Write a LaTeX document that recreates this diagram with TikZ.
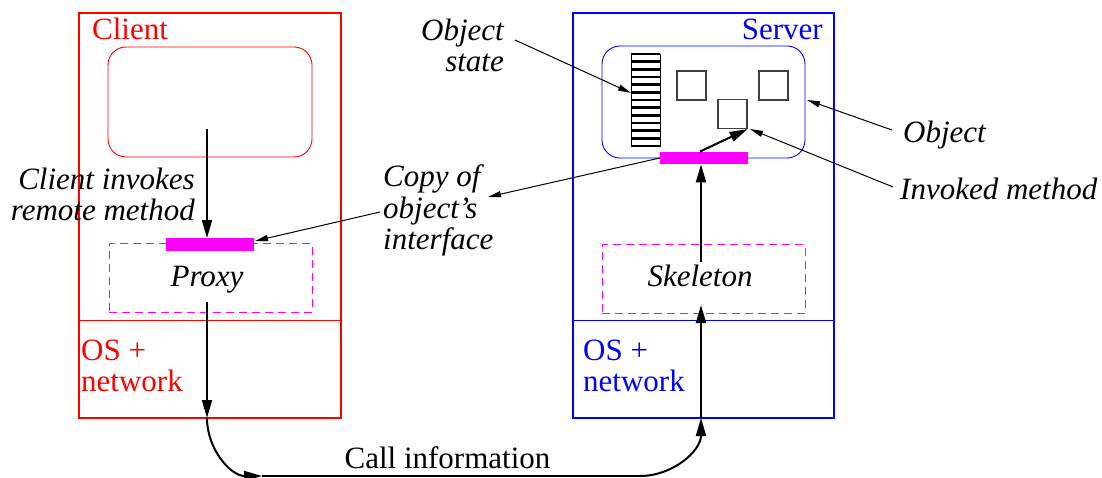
\documentclass[tikz,border=0pt]{standalone}
\usepackage{fontspec}
\IfFontExistsTF{LiberationSerif-Regular.ttf}
 {\setmainfont{LiberationSerif}[Extension=.ttf,UprightFont=*-Regular,ItalicFont=*-Italic,BoldFont=*-Bold,BoldItalicFont=*-BoldItalic]}
 {\IfFontExistsTF{texgyretermes-regular.otf}
   {\setmainfont{texgyretermes}[Extension=.otf,UprightFont=*-regular,ItalicFont=*-italic,BoldFont=*-bold,BoldItalicFont=*-bolditalic]}
   {}}
\usetikzlibrary{arrows.meta}
\definecolor{mag}{RGB}{255,0,255}
\definecolor{cred}{RGB}{255,0,0}
\definecolor{cblue}{RGB}{0,0,255}
\newcommand\mylines[2]{\begin{tabular}[t]{@{}#1@{}}#2\end{tabular}}
\begin{document}
\begin{tikzpicture}[x=1pt,y=-1pt,
  txt/.style={inner sep=0pt, font=\rmfamily\fontsize{31}{31}\selectfont},
  itxt/.style={inner sep=0pt, font=\rmfamily\fontsize{31}{31}\selectfont\itshape},
  outerbox/.style={draw, line width=2pt, inner sep=0pt},
  innerbox/.style={draw, line width=0.9pt, rounded corners=18pt, inner sep=0pt},
  dashbox/.style={draw=mag, line width=1pt, dash pattern=on 8pt off 5pt, inner sep=0pt},
  bar/.style={fill=mag, inner sep=0pt, minimum width=88pt, minimum height=12.5pt},
  method/.style={draw=black!75, line width=1.2pt, inner sep=0pt, minimum width=29pt, minimum height=29pt},
  main/.style={line width=2pt, -{Triangle[length=18pt,width=10pt]}},
  note/.style={line width=1pt, -{Triangle[length=13pt,width=6pt]}}]
\useasboundingbox (0,0) rectangle (1102,478);

% ---------- client ----------
\node[outerbox, draw=cred, minimum width=262pt, minimum height=405pt] (client) at (210,215.5) {};
\node[innerbox, draw=cred, minimum width=204pt, minimum height=110pt] (cinner) at (210,102) {};
\node[dashbox, minimum width=203pt, minimum height=68pt] (proxy) at (210.5,278) {};
\node[bar] (cbar) at (210,244.5) {};
\draw[cred, line width=1pt] (client.west |- 0,320) -- (client.east |- 0,320);
\node[txt, cred, anchor=base west] (clientlbl) at (92,40) {Client};
\node[txt, cred, anchor=base west] (cos) at (81,360) {\mylines{l}{OS +\\network}};
\node[itxt, anchor=base] (proxylbl) at (207,287) {Proxy};
\node[itxt, anchor=base east] (invokes) at (195,190) {\mylines{r}{Client invokes\\remote method}};

% ---------- server ----------
\node[outerbox, draw=cblue, minimum width=261pt, minimum height=405pt] (server) at (703.5,215.5) {};
\node[innerbox, draw=cblue, minimum width=203pt, minimum height=112pt] (object) at (703.5,102) {};
\node[dashbox, minimum width=203pt, minimum height=68pt] (skeleton) at (703.5,279) {};
\node[bar] (sbar) at (704,158) {};
\draw[cblue, line width=1pt] (server.west |- 0,320) -- (server.east |- 0,320);
\node[txt, cblue, anchor=base east] (serverlbl) at (823,40) {Server};
\node[txt, cblue, anchor=base west] (sos) at (583,360) {\mylines{l}{OS +\\network}};
\node[itxt, anchor=base] (skellbl) at (700,287) {Skeleton};

% object state stack and methods
\node[draw, line width=0.8pt, inner sep=0pt, minimum width=29pt, minimum height=92pt] (stack) at (645.5,100) {};
\foreach \i in {0,...,12}
  \draw[line width=2.4pt] (stack.north west |- 0,{54+\i*7.667}) -- (stack.north east |- 0,{54+\i*7.667});
\node[method] (m1) at (691.5,85.5) {};
\node[method] (m2) at (773.5,85.5) {};
\node[method] (m3) at (732.5,114) {};

% ---------- labels outside ----------
\node[itxt, anchor=base east] (statelbl) at (504,41) {\mylines{r}{Object\\state}};
\node[inner sep=0pt, font=\rmfamily\fontsize{31}{31.5}\selectfont\itshape, anchor=base west] (copylbl) at (383,187) {\mylines{l}{Copy of\\object’s\\interface}};
\node[itxt, anchor=base west] (objlbl) at (903,143) {Object};
\node[itxt, anchor=base west] (invlbl) at (900,200) {Invoked method};
\node[txt, anchor=base] (calllbl) at (447.5,468) {Call information};

% ---------- coordinates ----------
\coordinate (cstart) at (207,129);
\coordinate (pstart) at (207,302);
\coordinate (cout) at (207,418);
\coordinate (b1) at (262,476);
\coordinate (b2) at (640,476);
\coordinate (sin) at (701,418);
\coordinate (sk1) at (701,305);
\coordinate (skstart) at (701,262);
\coordinate (statestart) at (515,40);
\coordinate (statetip) at (631,93);
\coordinate (copystart) at (380,212);
\coordinate (ctip) at (255,241);
\coordinate (copytip) at (488,197);
\coordinate (objstart) at (892,130);
\coordinate (objtip) at (807,100);
\coordinate (invstart) at (893,187);
\coordinate (invtip) at (750,129);

% ---------- main arrows ----------
\draw[main] (cstart) -- (cstart |- cbar.north);
\draw[main] (pstart) -- (cout);
\draw[main] (cout) to[out=-90,in=180] (b1);
\draw[line width=2pt] (b1) -- (b2);
\draw[main] (b2) to[out=0,in=-90] (sin);
\draw[main] (sin) -- (sk1);
\draw[main] (skstart) -- (skstart |- sbar.south);
\draw[main] (sbar.north -| 700,0) -- (m3.south east);

% ---------- annotation arrows ----------
\draw[note] (statestart) -- (statetip);
\draw[note] (copystart) -- (ctip);
\draw[note] (sbar.west) -- (copytip);
\draw[note] (objstart) -- (objtip);
\draw[note] (invstart) -- (invtip);
\end{tikzpicture}
\end{document}
